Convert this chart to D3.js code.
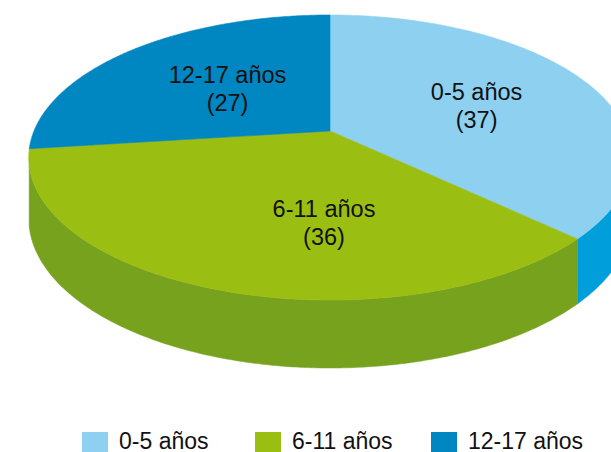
<!DOCTYPE html>
<html>
<head>
<meta charset="utf-8">
<script src="https://cdn.jsdelivr.net/npm/d3@7"></script>
<style>
  html, body { margin: 0; padding: 0; background: #fff; overflow: hidden; }
  svg { display: block; font-family: "Liberation Sans", Arial, sans-serif; }
</style>
</head>
<body>
<svg id="chart" width="611" height="452"></svg>
<script>
const CATEGORIES = ['0-5 años', '6-11 años', '12-17 años'];
const VALUES = [37, 36, 27];
const TOP_COLORS = ['#8ed0f0', '#9bbe12', '#0086c0'];
const SIDE_COLORS = ['#009fdc', '#76a21e', '#006d9e'];

function drawChart() {
  const svg = d3.select('#chart');
  const width = 611;
  const height = 452;

  // simple perspective camera for the tilted disc
  const cx = 330, cy = 131;
  const F = 1409, D = 4.76;
  const tilt = 27.7 * Math.PI / 180;
  const sinT = Math.sin(tilt), cosT = Math.cos(tilt);
  const depth = 0.2316;

  function project(theta, r, y) {
    const X = r * Math.sin(theta);
    const Z = r * Math.cos(theta);
    const up = y * cosT + Z * sinT;
    const d = D + Z * cosT - y * sinT;
    return [cx + F * X / d, cy - F * up / d];
  }

  // bottom rim keeps the x of the top rim so the wall edges stay vertical
  function projectBottom(theta) {
    return [project(theta, 1, 0)[0], project(theta, 1, -depth)[1]];
  }

  // range of the outer wall that faces the camera
  const visMin = Math.acos(-1 / (D * cosT));
  const visMax = 2 * Math.PI - visMin;

  const pie = d3.pie().sort(null).value(d => d.value);
  const arcs = pie(CATEGORIES.map((name, i) => ({ name, value: VALUES[i], i })));

  const line = d3.line();

  function angles(a0, a1) {
    const n = Math.max(2, Math.ceil((a1 - a0) / 0.01));
    return d3.range(n + 1).map(k => a0 + (a1 - a0) * k / n);
  }

  svg.append('defs').append('clipPath').attr('id', 'clip')
    .append('rect').attr('width', width).attr('height', height);

  const g = svg.append('g').attr('clip-path', 'url(#clip)');

  // side walls
  g.append('g').selectAll('path')
    .data(arcs.filter(a => Math.min(a.endAngle, visMax) > Math.max(a.startAngle, visMin)))
    .enter()
    .append('path')
    .attr('fill', d => SIDE_COLORS[d.data.i])
    .attr('stroke', d => SIDE_COLORS[d.data.i])
    .attr('stroke-width', 0.5)
    .attr('d', d => {
      const ts = angles(Math.max(d.startAngle, visMin), Math.min(d.endAngle, visMax));
      const pts = ts.map(t => project(t, 1, 0)).concat(ts.slice().reverse().map(projectBottom));
      return line(pts) + 'Z';
    });

  // top faces
  const topPts = arcs.map(a => [project(0, 0, 0)].concat(angles(a.startAngle, a.endAngle).map(t => project(t, 1, 0))));

  g.append('g').selectAll('path')
    .data(arcs)
    .enter()
    .append('path')
    .attr('fill', d => TOP_COLORS[d.data.i])
    .attr('stroke', d => TOP_COLORS[d.data.i])
    .attr('stroke-width', 0.6)
    .attr('d', (d, i) => line(topPts[i]) + 'Z');

  // data labels: mid angle of the slice, the front slice is labelled at the front
  function labelAnchor(a) {
    const mid = (a.startAngle + a.endAngle) / 2;
    if (a.startAngle < Math.PI && a.endAngle > Math.PI) {
      const p = project(Math.PI, 0.6, 0);
      return [p[0] - 6, p[1]];
    }
    const p = project(mid, 0.53, 0);
    return [p[0] + 8, p[1] + 4];
  }

  const labels = g.append('g').selectAll('g')
    .data(arcs)
    .enter()
    .append('g')
    .attr('transform', d => `translate(${labelAnchor(d)})`);

  labels.append('text')
    .attr('text-anchor', 'middle')
    .attr('font-size', 23.5)
    .attr('fill', '#111')
    .attr('y', -7)
    .text(d => d.data.name);

  labels.append('text')
    .attr('text-anchor', 'middle')
    .attr('font-size', 23.5)
    .attr('fill', '#111')
    .attr('y', 21)
    .text(d => `(${d.data.value})`);

  // legend
  const legendX = [82, 255, 431];
  const legend = svg.append('g').selectAll('g')
    .data(CATEGORIES)
    .enter()
    .append('g')
    .attr('transform', (d, i) => `translate(${legendX[i]},432)`);

  legend.append('rect')
    .attr('width', 26)
    .attr('height', 26)
    .attr('fill', (d, i) => TOP_COLORS[i]);

  legend.append('text')
    .attr('x', 37)
    .attr('y', 17)
    .attr('font-size', 23)
    .attr('fill', '#111')
    .text(d => d);
}

window.addEventListener('DOMContentLoaded', drawChart);
</script>
</body>
</html>
